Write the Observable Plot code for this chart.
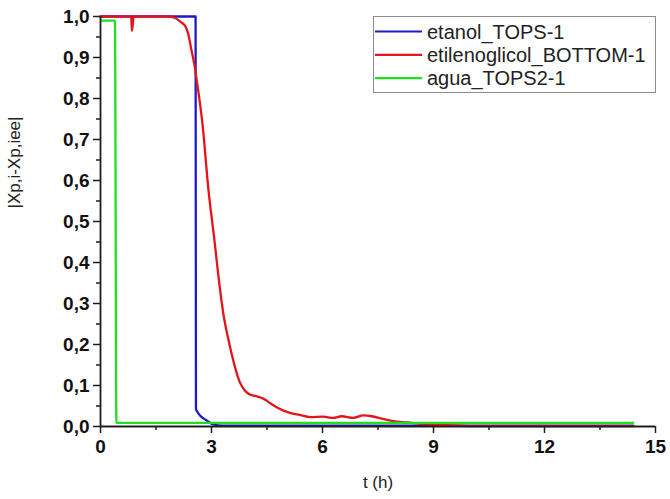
<!DOCTYPE html>
<html>
<head>
<meta charset="utf-8">
<script src="https://cdn.jsdelivr.net/npm/d3@7"></script>
<script src="https://cdn.jsdelivr.net/npm/@observablehq/plot@0.6"></script>
<style>
  body { margin: 0; background: #fff; }
  #chart { width: 670px; height: 499px; }
</style>
</head>
<body>
<div id="chart"></div>
<script>
// Series names and colours (legend order = drawing order)
const seriesNames = ["etanol_TOPS-1", "etilenoglicol_BOTTOM-1", "agua_TOPS2-1"];
const seriesColors = ["#1c1cc4", "#e3141a", "#1fe01f"];

// etanol_TOPS-1
const etanolT = [0, 2.57, 2.58, 2.63, 2.69, 2.78, 2.87, 2.96, 3.05, 3.3, 14.4];
const etanolV = [1.0, 1.0, 0.043, 0.034, 0.027, 0.02, 0.015, 0.009, 0.005, 0.002, 0.002];

// etilenoglicol_BOTTOM-1
const glicolT = [0, 0.83, 0.85, 0.9, 1.8, 2.0, 2.15, 2.3, 2.37, 2.46, 2.55, 2.6, 2.7, 2.76, 2.91,
  3.08, 3.18, 3.32, 3.45, 3.55, 3.65, 3.77, 3.9, 4.0, 4.2, 4.4, 4.6, 4.76, 5.12, 5.4, 5.66,
  6.02, 6.29, 6.52, 6.83, 7.1, 7.33, 7.6, 7.91, 8.28, 8.72, 9.27, 9.7, 10.0, 14.4];
const glicolV = [1.0, 1.0, 0.965, 1.0, 1.0, 0.997, 0.988, 0.975, 0.958, 0.917, 0.876, 0.845, 0.78, 0.735, 0.584,
  0.454, 0.372, 0.275, 0.215, 0.175, 0.14, 0.107, 0.088, 0.08, 0.074, 0.068, 0.056, 0.047, 0.033, 0.028, 0.023,
  0.024, 0.021, 0.025, 0.021, 0.027, 0.025, 0.019, 0.013, 0.01, 0.006, 0.003, 0.002, 0.001, 0.001];

// agua_TOPS2-1
const aguaT = [0.03, 0.39, 0.43, 14.4];
const aguaV = [0.99, 0.99, 0.009, 0.009];

// Axis ticks and labels
const xMajor = [0, 3, 6, 9, 12, 15];
const xMinor = [1.5, 4.5, 7.5, 10.5, 13.5];
const yMajor = [0, 0.1, 0.2, 0.3, 0.4, 0.5, 0.6, 0.7, 0.8, 0.9, 1.0];
const yMinor = [0.05, 0.15, 0.25, 0.35, 0.45, 0.55, 0.65, 0.75, 0.85, 0.95];
const yTickLabels = ["0,0", "0,1", "0,2", "0,3", "0,4", "0,5", "0,6", "0,7", "0,8", "0,9", "1,0"];
const xTitle = "t (h)";
const yTitle = "|Xp,i-Xp,iee|";

const rows = [];
[[etanolT, etanolV], [glicolT, glicolV], [aguaT, aguaV]].forEach(([ts, vs], i) => {
  ts.forEach((t, j) => rows.push({series: seriesNames[i], t, v: vs[j]}));
});

const font = "'Liberation Sans', Arial, Helvetica, sans-serif";
const axisColor = "#1e1e1e";

const chart = Plot.plot({
  width: 670,
  height: 499,
  marginLeft: 100,
  marginRight: 15,
  marginTop: 16,
  marginBottom: 73,
  style: {fontFamily: font, background: "#fff", color: "#111"},
  x: {domain: [0, 15]},
  y: {domain: [0, 1]},
  color: {domain: seriesNames, range: seriesColors},
  marks: [
    Plot.line(rows, {x: "t", y: "v", z: "series", stroke: "series", strokeWidth: 2.3,
      strokeLinejoin: "round", curve: "monotone-x"}),
    Plot.ruleX([0], {stroke: axisColor, strokeWidth: 1.8}),
    Plot.ruleY([0], {stroke: axisColor, strokeWidth: 1.8}),
    Plot.axisX(xMinor, {tickSize: 4, text: null, stroke: axisColor, strokeWidth: 1.5, label: null}),
    Plot.axisX(xMajor, {tickSize: 7, tickPadding: 6, stroke: axisColor, strokeWidth: 1.5,
      fontSize: 19, fontWeight: "bold", label: null, tickFormat: d => String(d)}),
    Plot.axisY(yMinor, {tickSize: 4, text: null, stroke: axisColor, strokeWidth: 1.5, label: null}),
    Plot.axisY(yMajor, {tickSize: 7, tickPadding: 4, stroke: axisColor, strokeWidth: 1.5,
      fontSize: 19, fontWeight: "bold", label: null,
      tickFormat: d => yTickLabels[Math.round(d * 10)]}),
    Plot.text([xTitle], {frameAnchor: "bottom", dy: 61, fontSize: 17, fill: "#222"}),
    Plot.text([yTitle], {frameAnchor: "left", dx: -86, dy: -13, rotate: -90, fontSize: 17, fill: "#222"})
  ]
});

// Legend box inside the plot area
const svg = d3.select(chart);
const lg = svg.append("g").attr("font-family", font).attr("text-anchor", "start");
lg.append("rect")
  .attr("x", 373.5).attr("y", 16.5).attr("width", 282).attr("height", 76)
  .attr("fill", "#fff").attr("stroke", "#8c8c8c").attr("stroke-width", 1);
seriesNames.forEach((name, i) => {
  const y = 31.5 + i * 23.3;
  lg.append("line")
    .attr("x1", 375).attr("x2", 422).attr("y1", y).attr("y2", y)
    .attr("stroke", seriesColors[i]).attr("stroke-width", 2.2);
  lg.append("text")
    .attr("x", 427).attr("y", y).attr("dy", "0.35em")
    .attr("text-anchor", "start")
    .attr("font-size", 20).attr("fill", "#222")
    .text(name);
});

document.getElementById("chart").appendChild(chart);
</script>
</body>
</html>
